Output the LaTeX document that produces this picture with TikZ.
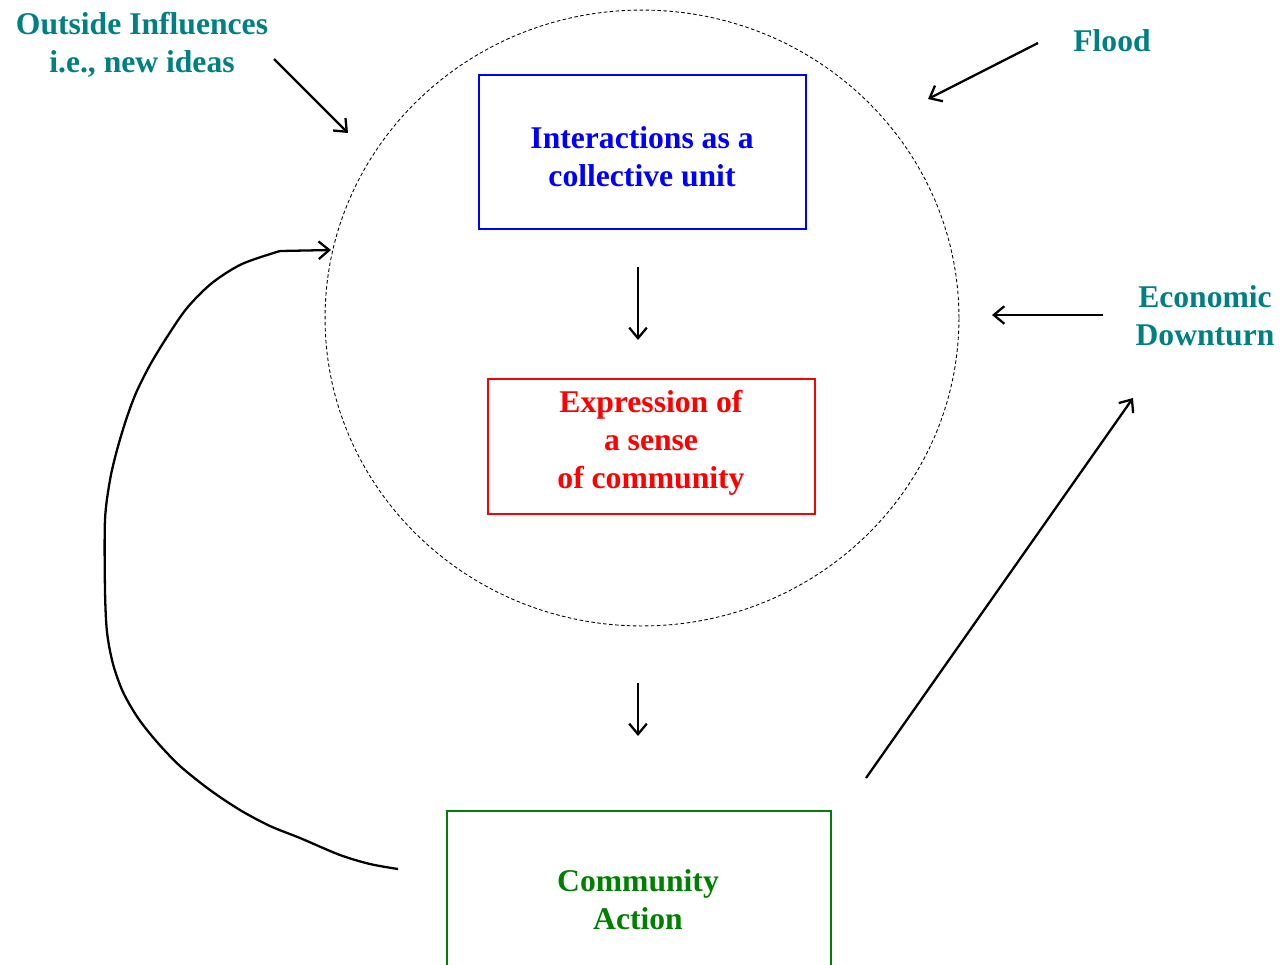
\documentclass[tikz,border=0pt]{standalone}
\usepackage{fontspec}
\setmainfont{Liberation Serif}
\usetikzlibrary{arrows.meta}

\definecolor{sarcelle}{RGB}{0,128,128}
\definecolor{vert}{RGB}{0,128,0}

\tikzset{
  texte/.style={font=\fontsize{18}{21.6}\selectfont\bfseries, align=center, inner sep=0pt},
  boite/.style={draw, line width=1.3pt, inner sep=0pt},
  fleche/.style={-{Straight Barb[length=6pt,width=10pt]}, line width=1.3pt}
}

\begin{document}
\begin{tikzpicture}[x=0.02cm,y=-0.02cm]
    \useasboundingbox (0,0) rectangle (1283,964);
    % le cercle
    \draw[line width=0.5pt, dash pattern=on 2pt off 1.4pt] (642,318) ellipse [x radius=6.34cm, y radius=6.16cm];
    % les boites
    \node[boite, draw=blue, minimum width=6.54cm, minimum height=3.08cm] (inter) at (642.5,152) {};
    \node[texte, text=blue] at (642,157) {Interactions as a\\collective unit};
    \node[boite, draw=red, minimum width=6.54cm, minimum height=2.7cm] (expr) at (651.5,446.5) {};
    \node[texte, text=red] at (651,443) {Expression of\\a sense\\of community};
    \node[boite, draw=vert, minimum width=7.68cm, minimum height=3.36cm] (action) at (639,895) {};
    \node[texte, text=vert] at (638,900) {Community\\Action};
    % influences exterieures
    \node[texte, text=sarcelle] (outside) at (142,45) {Outside Influences\\i.e., new ideas};
    \node[texte, text=sarcelle] (flood) at (1112,41) {Flood};
    \node[texte, text=sarcelle] (eco) at (1205,316) {Economic\\Downturn};
    % extremites des fleches
    \coordinate (o1) at (274,59);   \coordinate (o2) at (348,133);
    \coordinate (f1) at (1038,43);  \coordinate (f2) at (928,99);
    \coordinate (e1) at (1103,315); \coordinate (e2) at (992,315);
    \coordinate (a1) at (638,267);  \coordinate (a2) at (638,340);
    \coordinate (b1) at (638,683);  \coordinate (b2) at (638,736);
    \coordinate (c1) at (866,778);  \coordinate (c2) at (1133,398);
    \coordinate (r1) at (398,869);  \coordinate (r2) at (331,250);
    % fleches
    \draw[fleche] (o1) -- (o2);
    \draw[fleche] (f1) -- (f2);
    \draw[fleche] (e1) -- (e2);
    \draw[fleche] (a1) -- (a2);
    \draw[fleche] (b1) -- (b2);
    \draw[fleche] (c1) -- (c2);
    % retour
    \draw[fleche] plot[smooth, tension=0.5] coordinates {(r1) (370,864) (340,855) (300,838) (270,826)
      (240,810) (210,790) (180,766) (157,742) (138,718) (123,692) (113,664) (107,632) (105,590)
      (105,520) (110,480) (117,450) (126,420) (136,393) (150,365) (167,337) (187,308) (212,283)
      (242,264) (280,251)} -- (r2);
\end{tikzpicture}
\end{document}
